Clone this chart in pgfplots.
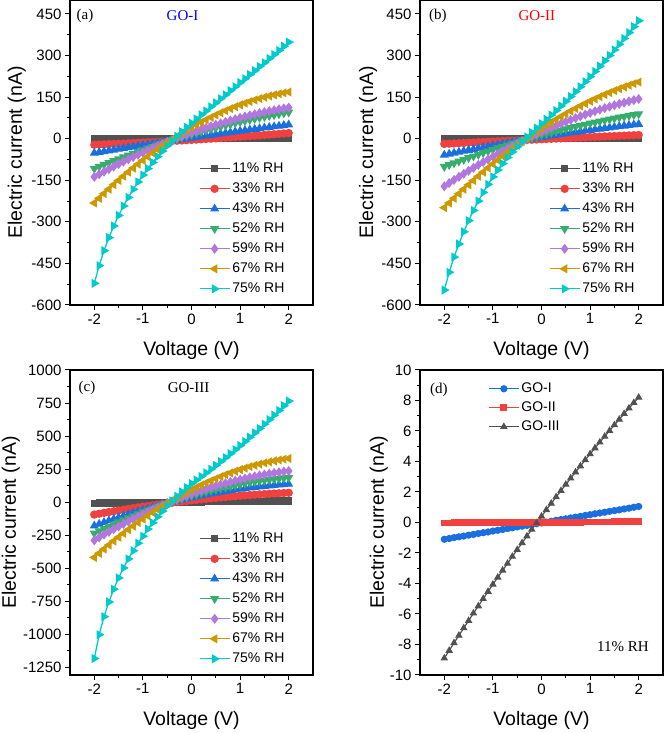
\documentclass[border=0pt]{standalone}
\usepackage{fontspec}
\setmainfont{Liberation Sans}
\newfontfamily\tnr{Liberation Serif}
\usepackage{pgfplots}
\usepackage{pgfplotstable}
\pgfplotsset{compat=1.18}

\definecolor{cK}{HTML}{515151}
\definecolor{cR}{HTML}{F14040}
\definecolor{cB}{HTML}{1A6FDF}
\definecolor{cG}{HTML}{37AD6B}
\definecolor{cP}{HTML}{B177DE}
\definecolor{cY}{HTML}{CC9900}
\definecolor{cC}{HTML}{00CBCC}

% GO-I (a), 33..75% RH
\pgfplotstableread{
V a b c d e f
-2.0 -22.0 -52.0 -108.0 -138.0 -232.0 -522
-1.9 -21.3 -49.1 -100.9 -128.5 -215.1 -458
-1.8 -20.6 -46.2 -93.8 -119.1 -198.4 -404
-1.7 -19.8 -43.3 -86.8 -109.9 -182.2 -357
-1.6 -19.0 -40.5 -80.0 -100.8 -166.2 -315
-1.5 -18.3 -37.7 -73.3 -92.0 -150.7 -277
-1.4 -17.5 -34.8 -66.6 -83.2 -135.5 -243
-1.3 -16.6 -32.0 -60.1 -74.7 -120.7 -212
-1.2 -15.8 -29.3 -53.7 -66.3 -106.2 -183
-1.1 -15.0 -26.5 -47.4 -58.2 -92.1 -156
-1.0 -14.1 -23.8 -41.2 -50.1 -78.3 -131
-0.9 -13.2 -21.0 -35.1 -42.3 -64.9 -108
-0.8 -12.3 -18.3 -29.1 -34.6 -51.9 -86
-0.7 -11.4 -15.6 -23.2 -27.1 -39.2 -65
-0.6 -10.4 -13.0 -17.5 -19.7 -26.8 -45
-0.5 -9.5 -10.3 -11.8 -12.5 -14.9 -26
-0.4 -8.5 -7.7 -6.2 -5.5 -3.3 -8
-0.3 -7.5 -5.1 -0.8 1.3 8.0 9
-0.2 -6.5 -2.5 4.6 8.0 18.9 25
-0.1 -5.5 0.1 9.8 14.5 29.4 41
0.0 -4.5 2.7 14.9 20.8 39.6 56
0.1 -3.4 5.2 19.9 27.0 49.4 71
0.2 -2.3 7.7 24.9 33.0 58.9 86
0.3 -1.2 10.2 29.7 38.8 68.0 100
0.4 -0.1 12.7 34.4 44.5 76.7 115
0.5 1.0 15.2 39.0 50.0 85.1 129
0.6 2.2 17.6 43.4 55.3 93.2 144
0.7 3.3 20.1 47.8 60.4 100.8 158
0.8 4.5 22.5 52.1 65.4 108.1 173
0.9 5.7 24.9 56.3 70.2 115.1 187
1.0 6.9 27.3 60.3 74.9 121.7 202
1.1 8.1 29.6 64.3 79.4 127.9 216
1.2 9.4 31.9 68.1 83.7 133.8 231
1.3 10.7 34.3 71.9 87.8 139.3 245
1.4 11.9 36.6 75.5 91.8 144.5 260
1.5 13.2 38.9 79.0 95.6 149.3 274
1.6 14.6 41.1 82.4 99.2 153.8 289
1.7 15.9 43.4 85.7 102.6 157.8 303
1.8 17.2 45.6 88.9 105.9 161.6 318
1.9 18.6 47.8 92.0 109.1 164.9 333
2.0 20.0 50.0 95.0 112.0 168.0 348
}\tA

% GO-II (b)
\pgfplotstableread{
V a b c d e f
-2.0 -19.0 -59.0 -101.0 -172.0 -249.0 -546
-1.9 -18.1 -55.4 -94.5 -160.4 -231.9 -482
-1.8 -17.3 -51.8 -88.1 -149.0 -215.2 -427
-1.7 -16.4 -48.3 -81.7 -137.8 -198.7 -380
-1.6 -15.5 -44.9 -75.5 -126.7 -182.5 -336
-1.5 -14.6 -41.4 -69.3 -115.9 -166.6 -296
-1.4 -13.8 -38.0 -63.2 -105.3 -151.0 -259
-1.3 -12.9 -34.7 -57.3 -94.8 -135.7 -225
-1.2 -12.1 -31.4 -51.4 -84.5 -120.7 -194
-1.1 -11.2 -28.1 -45.6 -74.5 -106.0 -165
-1.0 -10.4 -24.9 -39.9 -64.6 -91.6 -138
-0.9 -9.6 -21.7 -34.3 -54.9 -77.4 -113
-0.8 -8.7 -18.6 -28.7 -45.4 -63.6 -90
-0.7 -7.9 -15.5 -23.3 -36.1 -50.1 -68
-0.6 -7.1 -12.4 -18.0 -27.0 -36.8 -48
-0.5 -6.2 -9.4 -12.7 -18.0 -23.9 -29
-0.4 -5.4 -6.5 -7.6 -9.3 -11.2 -11
-0.3 -4.6 -3.6 -2.5 -0.8 1.1 6
-0.2 -3.8 -0.7 2.5 7.6 13.2 22
-0.1 -3.0 2.2 7.4 15.8 25.0 38
0.0 -2.2 5.0 12.2 23.7 36.4 54
0.1 -1.4 7.7 16.9 31.5 47.6 69.5
0.2 -0.6 10.4 21.5 39.1 58.5 85.3
0.3 0.2 13.1 26.0 46.5 69.1 101.4
0.4 1.0 15.7 30.5 53.7 79.4 117.9
0.5 1.8 18.3 34.8 60.7 89.4 134.7
0.6 2.6 20.9 39.0 67.5 99.1 151.8
0.7 3.3 23.4 43.2 74.2 108.5 169.2
0.8 4.1 25.8 47.3 80.6 117.6 187.0
0.9 4.9 28.2 51.3 86.9 126.4 205.1
1.0 5.6 30.6 55.1 92.9 135.0 223.5
1.1 6.4 32.9 58.9 98.8 143.2 242.2
1.2 7.1 35.2 62.6 104.5 151.1 261.2
1.3 7.9 37.5 66.3 110.0 158.8 280.6
1.4 8.6 39.7 69.8 115.3 166.1 300.3
1.5 9.4 41.8 73.2 120.4 173.2 320.3
1.6 10.1 44.0 76.6 125.3 179.9 340.6
1.7 10.8 46.0 79.8 130.0 186.4 361.3
1.8 11.6 48.1 83.0 134.5 192.5 382.3
1.9 12.3 50.1 86.0 138.9 198.4 403.6
2.0 13.0 52.0 89.0 143.0 204.0 425.2
}\tB

% GO-III (c)
\pgfplotstableread{
V a b c d e f
-2.0 -95.0 -180.0 -237.0 -290.0 -420.0 -1185
-1.9 -88.5 -166.8 -219.3 -268.2 -387.9 -1005
-1.8 -82.1 -153.8 -202.0 -246.9 -356.4 -868
-1.7 -75.8 -141.1 -185.0 -226.0 -325.6 -757
-1.6 -69.6 -128.6 -168.4 -205.6 -295.6 -660
-1.5 -63.6 -116.5 -152.2 -185.6 -266.2 -575
-1.4 -57.7 -104.6 -136.3 -166.0 -237.5 -499
-1.3 -51.9 -93.0 -120.8 -146.9 -209.4 -431
-1.2 -46.2 -81.7 -105.7 -128.3 -182.1 -369
-1.1 -40.7 -70.6 -90.9 -110.0 -155.5 -312
-1.0 -35.3 -59.8 -76.5 -92.3 -129.5 -259
-0.9 -30.0 -49.3 -62.5 -74.9 -104.2 -205
-0.8 -24.8 -39.1 -48.8 -58.0 -79.6 -157
-0.7 -19.7 -29.1 -35.5 -41.6 -55.7 -112
-0.6 -14.8 -19.4 -22.6 -25.6 -32.5 -69
-0.5 -10.0 -10.0 -10.0 -10.0 -10.0 -28
-0.4 -5.3 -0.9 2.2 5.1 11.8 9
-0.3 -0.8 8.0 14.0 19.8 33.0 44
-0.2 3.7 16.6 25.5 34.0 53.5 77
-0.1 8.0 24.9 36.6 47.8 73.2 109
0.0 12.2 32.9 47.3 61.2 92.3 140
0.1 16.2 40.7 57.7 74.1 110.7 166.5
0.2 20.2 48.2 67.7 86.5 128.5 193.5
0.3 24.0 55.4 77.3 98.6 145.5 221
0.4 27.7 62.3 86.6 110.1 161.8 249
0.5 31.3 69.0 95.5 121.3 177.5 277.5
0.6 34.7 75.4 104.0 131.9 192.5 306.5
0.7 38.0 81.5 112.2 142.2 206.8 336
0.8 41.2 87.3 120.0 152.0 220.4 366
0.9 44.3 92.9 127.4 161.4 233.3 396.5
1.0 47.3 98.2 134.5 170.3 245.5 427.5
1.1 50.1 103.2 141.2 178.7 257.0 459
1.2 52.8 108.0 147.5 186.8 267.9 491
1.3 55.4 112.4 153.5 194.3 278.1 523.5
1.4 57.8 116.6 159.1 201.5 287.5 556.5
1.5 60.2 120.5 164.3 208.2 296.3 590
1.6 62.4 124.2 169.2 214.4 304.4 624
1.7 64.5 127.5 173.7 220.2 311.9 658.5
1.8 66.4 130.6 177.8 225.6 318.6 693.5
1.9 68.3 133.5 181.6 230.5 324.6 729
2.0 70.0 136.0 185.0 235.0 330.0 765
}\tC

% 11% RH: GO-I, GO-II, GO-III (d)
\pgfplotstableread{
V g1 g2 g3
-2.0 -1.10 -0.030 -8.90
-1.9 -1.05 -0.028 -8.40
-1.8 -0.99 -0.026 -7.90
-1.7 -0.94 -0.024 -7.41
-1.6 -0.89 -0.022 -6.92
-1.5 -0.83 -0.020 -6.44
-1.4 -0.78 -0.018 -5.95
-1.3 -0.72 -0.016 -5.48
-1.2 -0.67 -0.014 -5.00
-1.1 -0.62 -0.012 -4.53
-1.0 -0.56 -0.010 -4.06
-0.9 -0.51 -0.008 -3.60
-0.8 -0.46 -0.006 -3.14
-0.7 -0.40 -0.004 -2.69
-0.6 -0.35 -0.002 -2.23
-0.5 -0.29 0.000 -1.79
-0.4 -0.24 0.002 -1.34
-0.3 -0.19 0.004 -0.90
-0.2 -0.13 0.006 -0.46
-0.1 -0.08 0.008 -0.03
0.0 -0.03 0.010 0.40
0.1 0.03 0.012 0.83
0.2 0.08 0.014 1.25
0.3 0.14 0.016 1.67
0.4 0.19 0.018 2.08
0.5 0.24 0.020 2.49
0.6 0.30 0.022 2.90
0.7 0.35 0.024 3.30
0.8 0.40 0.026 3.70
0.9 0.46 0.028 4.10
1.0 0.51 0.030 4.49
1.1 0.57 0.032 4.88
1.2 0.62 0.034 5.26
1.3 0.67 0.036 5.64
1.4 0.73 0.038 6.02
1.5 0.78 0.040 6.39
1.6 0.83 0.042 6.76
1.7 0.89 0.044 7.13
1.8 0.94 0.046 7.49
1.9 1.00 0.048 7.85
2.0 1.05 0.050 8.20
}\tD

\tikzset{lbl/.style={font=\tnr\fontsize{15}{15}\selectfont}}

\pgfplotsset{
  panel/.style={
    scale only axis, width=243pt, height=305pt, anchor=south west,
    xmin=-2.5, xmax=2.5, xtick={-2,-1,0,1,2},
    minor xtick={-1.5,-0.5,0.5,1.5},
    minor y tick num=1,
    tick align=outside, xtick pos=bottom, ytick pos=left,
    major tick length=5pt, minor tick length=3pt,
    axis line style={line width=1.2pt},
    every tick/.style={line width=1pt, black},
    tick label style={font=\fontsize{15}{15}\selectfont},
    label style={font=\fontsize{19.5}{19.5}\selectfont},
    /pgf/number format/assume math mode=true,
    /pgf/number format/1000 sep={},
    xlabel={Voltage (V)}, ylabel={Electric current (nA)},
    xlabel style={at={(axis description cs:0.5,-0.148)}, anchor=center},
    legend cell align=left,
    legend style={draw=none, fill=none, font=\fontsize{14}{14}\selectfont,
      row sep=3pt, inner sep=0pt,
      nodes={inner sep=2pt, text height=10pt, text depth=3pt}},
    legend image code/.code={\draw[mark repeat=2,mark phase=2] plot coordinates {(0pt,0pt) (15pt,0pt) (30pt,0pt)};},
  },
  s11/.style={cK, line width=1.3pt, mark=square*, mark size=3pt},
  s33/.style={cR, line width=1.3pt, mark=*, mark size=3.5pt},
  s43/.style={cB, line width=1.3pt, mark=triangle*, mark size=4pt},
  s52/.style={cG, line width=1.3pt, mark=triangle*, mark size=4pt, mark options={rotate=180}},
  s59/.style={cP, line width=1.3pt, mark=diamond*, mark size=4pt},
  s67/.style={cY, line width=1.3pt, mark=triangle*, mark size=4pt, mark options={rotate=90}},
  s75/.style={cC, line width=1.3pt, mark=triangle*, mark size=4pt, mark options={rotate=-90}},
}

\begin{document}
\begin{tikzpicture}
\useasboundingbox (0,0) rectangle (666pt,733pt);

% (a)
\begin{axis}[panel, at={(70pt,428pt)}, ymin=-600, ymax=500, ytick={-600,-450,...,450},
  ylabel style={at={(axis description cs:-0.219,0.5)}, anchor=center},
  legend style={at={(axis description cs:0.53,0.475)}, anchor=north west}]
\addplot[s11] table[x=V,y=g1]{\tD};
\addplot[s33] table[x=V,y=a]{\tA};
\addplot[s43] table[x=V,y=b]{\tA};
\addplot[s52] table[x=V,y=c]{\tA};
\addplot[s59] table[x=V,y=d]{\tA};
\addplot[s67] table[x=V,y=e]{\tA};
\addplot[s75] table[x=V,y=f]{\tA};
\legend{11\% RH,33\% RH,43\% RH,52\% RH,59\% RH,67\% RH,75\% RH}
\node[lbl] at (axis description cs:0.062,0.948) {(a)};
\node[lbl, text=blue] at (axis description cs:0.463,0.948) {GO-I};
\end{axis}

% (b)
\begin{axis}[panel, at={(420pt,428pt)}, ymin=-600, ymax=500, ytick={-600,-450,...,450},
  ylabel style={at={(axis description cs:-0.214,0.5)}, anchor=center},
  legend style={at={(axis description cs:0.53,0.475)}, anchor=north west}]
\addplot[s11] table[x=V,y=g2]{\tD};
\addplot[s33] table[x=V,y=a]{\tB};
\addplot[s43] table[x=V,y=b]{\tB};
\addplot[s52] table[x=V,y=c]{\tB};
\addplot[s59] table[x=V,y=d]{\tB};
\addplot[s67] table[x=V,y=e]{\tB};
\addplot[s75] table[x=V,y=f]{\tB};
\legend{11\% RH,33\% RH,43\% RH,52\% RH,59\% RH,67\% RH,75\% RH}
\node[lbl] at (axis description cs:0.074,0.948) {(b)};
\node[lbl, text=red] at (axis description cs:0.481,0.948) {GO-II};
\end{axis}

% (c)
\begin{axis}[panel, at={(70pt,58pt)}, ymin=-1310, ymax=1000, ytick={-1250,-1000,...,1000},
  ylabel style={at={(axis description cs:-0.243,0.5)}, anchor=center},
  legend style={at={(axis description cs:0.53,0.475)}, anchor=north west}]
\addplot[s11] table[x=V,y=g3]{\tD};
\addplot[s33] table[x=V,y=a]{\tC};
\addplot[s43] table[x=V,y=b]{\tC};
\addplot[s52] table[x=V,y=c]{\tC};
\addplot[s59] table[x=V,y=d]{\tC};
\addplot[s67] table[x=V,y=e]{\tC};
\addplot[s75] table[x=V,y=f]{\tC};
\legend{11\% RH,33\% RH,43\% RH,52\% RH,59\% RH,67\% RH,75\% RH}
\node[lbl] at (axis description cs:0.07,0.941) {(c)};
\node[lbl] at (axis description cs:0.488,0.941) {GO-III};
\end{axis}

% (d)
\begin{axis}[panel, at={(420pt,58pt)}, ymin=-10, ymax=10, ytick={-10,-8,...,10},
  ylabel style={at={(axis description cs:-0.169,0.5)}, anchor=center},
  legend style={at={(axis description cs:0.28,0.967)}, anchor=north west, row sep=2pt}]
\addplot[cB, line width=1.2pt, mark=*, mark size=3pt] table[x=V,y=g1]{\tD};
\addplot[cR, line width=1.2pt, mark=square*, mark size=2.8pt] table[x=V,y=g2]{\tD};
\addplot[cK, line width=1.2pt, mark=triangle*, mark size=3.2pt] table[x=V,y=g3]{\tD};
\legend{GO-I,GO-II,GO-III}
\node[lbl] at (axis description cs:0.078,0.934) {(d)};
\node[lbl] at (axis description cs:0.835,0.092) {11\% RH};
\end{axis}
\end{tikzpicture}
\end{document}
